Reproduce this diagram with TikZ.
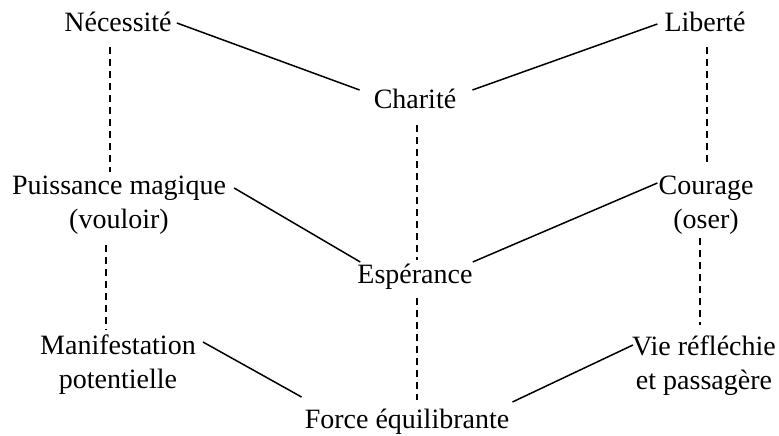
\documentclass[tikz,border=0pt]{standalone}
\usepackage{fontspec}
\setmainfont{Liberation Serif}
\begin{document}
\begin{tikzpicture}[x=1pt,y=-1pt,
  lbl/.style={font=\fontsize{28}{34}\selectfont, align=center, inner sep=0pt, anchor=base},
  link/.style={line width=1.5pt},
  dlink/.style={line width=1.5pt, dash pattern=on 7pt off 5pt}]
\useasboundingbox[fill=white] (0,0) rectangle (779,436);
\node[lbl] (nec) at (118,32) {Nécessité};
\node[lbl] (lib) at (705,32) {Liberté};
\node[lbl] (char) at (415,108) {Charité};
\node[lbl] (puis) at (119,228) {Puissance magique\\(vouloir)};
\node[lbl] (cour) at (706,228) {Courage\\(oser)};
\node[lbl] (esp) at (415,283) {Espérance};
\node[lbl] (man) at (118,388) {Manifestation\\potentielle};
\node[lbl] (vie) at (704,389) {Vie réfléchie\\et passagère};
\node[lbl] (force) at (407,428) {Force équilibrante};
% solid connectors
\draw[link] ([xshift=5pt,yshift=9pt]nec.base east) -- ([xshift=-14pt,yshift=18pt]char.base west);
\draw[link] ([xshift=16pt,yshift=18pt]char.base east) -- ([xshift=-7pt,yshift=8pt]lib.base west);
\draw[link] ([xshift=8pt,yshift=40pt]puis.base east) -- ([xshift=3pt,yshift=21pt]esp.base west);
\draw[link] ([yshift=21pt]esp.base east) -- ([xshift=-1pt,yshift=45pt]cour.base west);
\draw[link] ([xshift=7pt,yshift=46pt]man.base east) -- ([xshift=-3pt,yshift=31pt]force.base west);
\draw[link] ([xshift=3pt,yshift=26pt]force.base east) -- ([xshift=1pt,yshift=44pt]vie.base west);
% dashed connectors
\draw[dlink] ([xshift=-8pt,yshift=-15pt]nec.base) -- ([xshift=-9pt,yshift=56pt]puis.base);
\draw[dlink] ([xshift=-13pt,yshift=-17pt]puis.base) -- ([xshift=-12pt,yshift=58pt]man.base);
\draw[dlink] ([xshift=2pt,yshift=-17pt]char.base) -- ([xshift=2pt,yshift=23pt]esp.base);
\draw[dlink] ([xshift=2pt,yshift=-15pt]esp.base) -- ([xshift=10pt,yshift=28pt]force.base);
\draw[dlink] ([xshift=2pt,yshift=-15pt]lib.base) -- ([xshift=1pt,yshift=65pt]cour.base);
\draw[dlink] ([xshift=-6pt,yshift=-10pt]cour.base) -- ([xshift=-4pt,yshift=64pt]vie.base);
\end{tikzpicture}
\end{document}
